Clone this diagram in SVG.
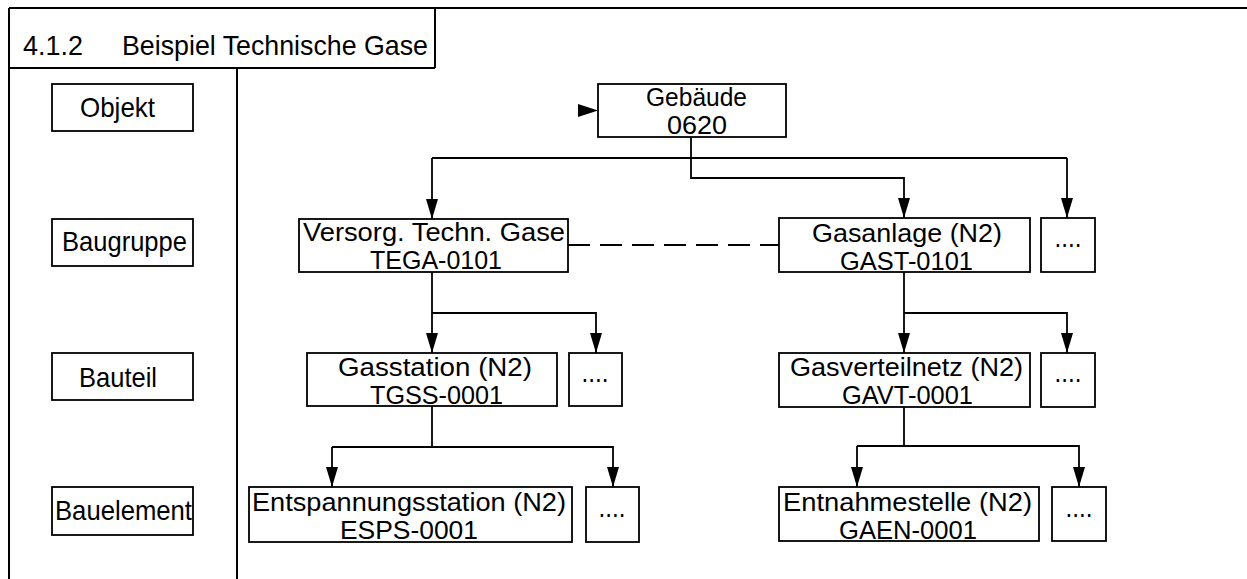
<svg xmlns="http://www.w3.org/2000/svg" width="1247" height="579" viewBox="0 0 1247 579">
<defs>
<style>
.frame{fill:none;stroke:#000;stroke-width:2}
.box{fill:#fff;stroke:#000;stroke-width:1.8}
.t{font-family:"Liberation Sans",Arial,sans-serif;font-size:28px;fill:#000}
.n{font-family:"Liberation Sans",Arial,sans-serif;font-size:25px;fill:#000}
.c{text-anchor:middle}
.con{fill:none;stroke:#000;stroke-width:1.8}
.dash{fill:none;stroke:#000;stroke-width:1.8;stroke-dasharray:22 10}
</style>
<marker id="ah" viewBox="0 0 20 12" refX="20" refY="6" markerWidth="20" markerHeight="12" markerUnits="userSpaceOnUse" orient="auto">
<path d="M0,0 L20,6 L0,12 z" fill="#000"/>
</marker>
</defs>
<rect width="1247" height="579" fill="#fff"/>
<g id="frame">
<line class="frame" x1="9" y1="8" x2="1247" y2="8"/>
<line class="frame" x1="9" y1="8" x2="9" y2="579"/>
<line class="frame" x1="435" y1="8" x2="435" y2="68"/>
<line class="frame" x1="9" y1="68" x2="435" y2="68"/>
<line class="frame" x1="237" y1="68" x2="237" y2="579"/>
<text class="t" x="23" y="55" textLength="60" lengthAdjust="spacingAndGlyphs">4.1.2</text>
<text class="t" x="122" y="55" textLength="306" lengthAdjust="spacingAndGlyphs">Beispiel Technische Gase</text>
</g>
<g id="legend-objekt">
<rect class="box" x="52" y="84" width="141" height="47"/>
<text class="t" x="80" y="117" textLength="75" lengthAdjust="spacingAndGlyphs">Objekt</text>
</g>
<g id="legend-baugruppe">
<rect class="box" x="52" y="219" width="141" height="47"/>
<text class="t" x="62" y="251" textLength="125" lengthAdjust="spacingAndGlyphs">Baugruppe</text>
</g>
<g id="legend-bauteil">
<rect class="box" x="52" y="353" width="141" height="47"/>
<text class="t" x="79" y="387" textLength="78" lengthAdjust="spacingAndGlyphs">Bauteil</text>
</g>
<g id="legend-bauelement">
<rect class="box" x="52" y="487" width="141" height="48"/>
<text class="t" x="55" y="520" textLength="137" lengthAdjust="spacingAndGlyphs">Bauelement</text>
</g>
<g id="connectors">
<path d="M578,104 L598,110.5 L578,117 z" fill="#000"/>
<polyline class="con" points="691,137 691,178 904,178 904,218" marker-end="url(#ah)"/>
<line class="con" x1="432" y1="158" x2="1067" y2="158"/>
<line class="con" x1="432" y1="158" x2="432" y2="219" marker-end="url(#ah)"/>
<line class="con" x1="1067" y1="158" x2="1067" y2="218" marker-end="url(#ah)"/>
<line class="dash" x1="568" y1="245" x2="779" y2="245"/>
<line class="con" x1="432" y1="272" x2="432" y2="353" marker-end="url(#ah)"/>
<polyline class="con" points="432,313 596,313 596,353" marker-end="url(#ah)"/>
<line class="con" x1="432" y1="406" x2="432" y2="447"/>
<polyline class="con" points="332,447 613,447 613,487" marker-end="url(#ah)"/>
<line class="con" x1="332" y1="447" x2="332" y2="487" marker-end="url(#ah)"/>
<line class="con" x1="904" y1="272" x2="904" y2="353" marker-end="url(#ah)"/>
<polyline class="con" points="904,313 1067,313 1067,353" marker-end="url(#ah)"/>
<line class="con" x1="904" y1="407" x2="904" y2="446"/>
<polyline class="con" points="857,446 1079,446 1079,487" marker-end="url(#ah)"/>
<line class="con" x1="857" y1="446" x2="857" y2="487" marker-end="url(#ah)"/>
</g>
<g id="gebaeude">
<rect class="box" x="598" y="84" width="188" height="53"/>
<text class="n" x="646" y="106" textLength="101" lengthAdjust="spacingAndGlyphs">Gebäude</text>
<text class="n" x="667" y="134" textLength="60" lengthAdjust="spacingAndGlyphs">0620</text>
</g>
<g id="tega">
<rect class="box" x="299" y="219" width="269" height="53"/>
<text class="n" x="303" y="241" textLength="262" lengthAdjust="spacingAndGlyphs">Versorg. Techn. Gase</text>
<text class="n" x="370" y="269" textLength="132" lengthAdjust="spacingAndGlyphs">TEGA-0101</text>
</g>
<g id="gast">
<rect class="box" x="779" y="218" width="251" height="54"/>
<text class="n" x="812" y="242" textLength="190" lengthAdjust="spacingAndGlyphs">Gasanlage (N2)</text>
<text class="n" x="840" y="270" textLength="133" lengthAdjust="spacingAndGlyphs">GAST-0101</text>
</g>
<g id="more-baugruppe">
<rect class="box" x="1041" y="218" width="54" height="54"/>
<text class="t c" x="1068" y="247" textLength="27" lengthAdjust="spacingAndGlyphs">....</text>
</g>
<g id="tgss">
<rect class="box" x="307" y="353" width="250" height="53"/>
<text class="n" x="338" y="376" textLength="194" lengthAdjust="spacingAndGlyphs">Gasstation (N2)</text>
<text class="n" x="370" y="404" textLength="133" lengthAdjust="spacingAndGlyphs">TGSS-0001</text>
</g>
<g id="more-tgss">
<rect class="box" x="569" y="353" width="53" height="53"/>
<text class="t c" x="595" y="382" textLength="27" lengthAdjust="spacingAndGlyphs">....</text>
</g>
<g id="gavt">
<rect class="box" x="779" y="353" width="251" height="54"/>
<text class="n" x="790" y="376" textLength="233" lengthAdjust="spacingAndGlyphs">Gasverteilnetz (N2)</text>
<text class="n" x="842" y="404" textLength="131" lengthAdjust="spacingAndGlyphs">GAVT-0001</text>
</g>
<g id="more-gavt">
<rect class="box" x="1041" y="353" width="54" height="54"/>
<text class="t c" x="1068" y="382" textLength="27" lengthAdjust="spacingAndGlyphs">....</text>
</g>
<g id="esps">
<rect class="box" x="249" y="487" width="323" height="55"/>
<text class="n" x="252" y="511" textLength="314" lengthAdjust="spacingAndGlyphs">Entspannungsstation (N2)</text>
<text class="n" x="340" y="539" textLength="138" lengthAdjust="spacingAndGlyphs">ESPS-0001</text>
</g>
<g id="more-esps">
<rect class="box" x="586" y="487" width="53" height="55"/>
<text class="t c" x="612" y="517" textLength="27" lengthAdjust="spacingAndGlyphs">....</text>
</g>
<g id="gaen">
<rect class="box" x="779" y="487" width="260" height="54"/>
<text class="n" x="783" y="511" textLength="249" lengthAdjust="spacingAndGlyphs">Entnahmestelle (N2)</text>
<text class="n" x="839" y="539" textLength="138" lengthAdjust="spacingAndGlyphs">GAEN-0001</text>
</g>
<g id="more-gaen">
<rect class="box" x="1052" y="487" width="54" height="54"/>
<text class="t c" x="1079" y="517" textLength="27" lengthAdjust="spacingAndGlyphs">....</text>
</g>
</svg>
